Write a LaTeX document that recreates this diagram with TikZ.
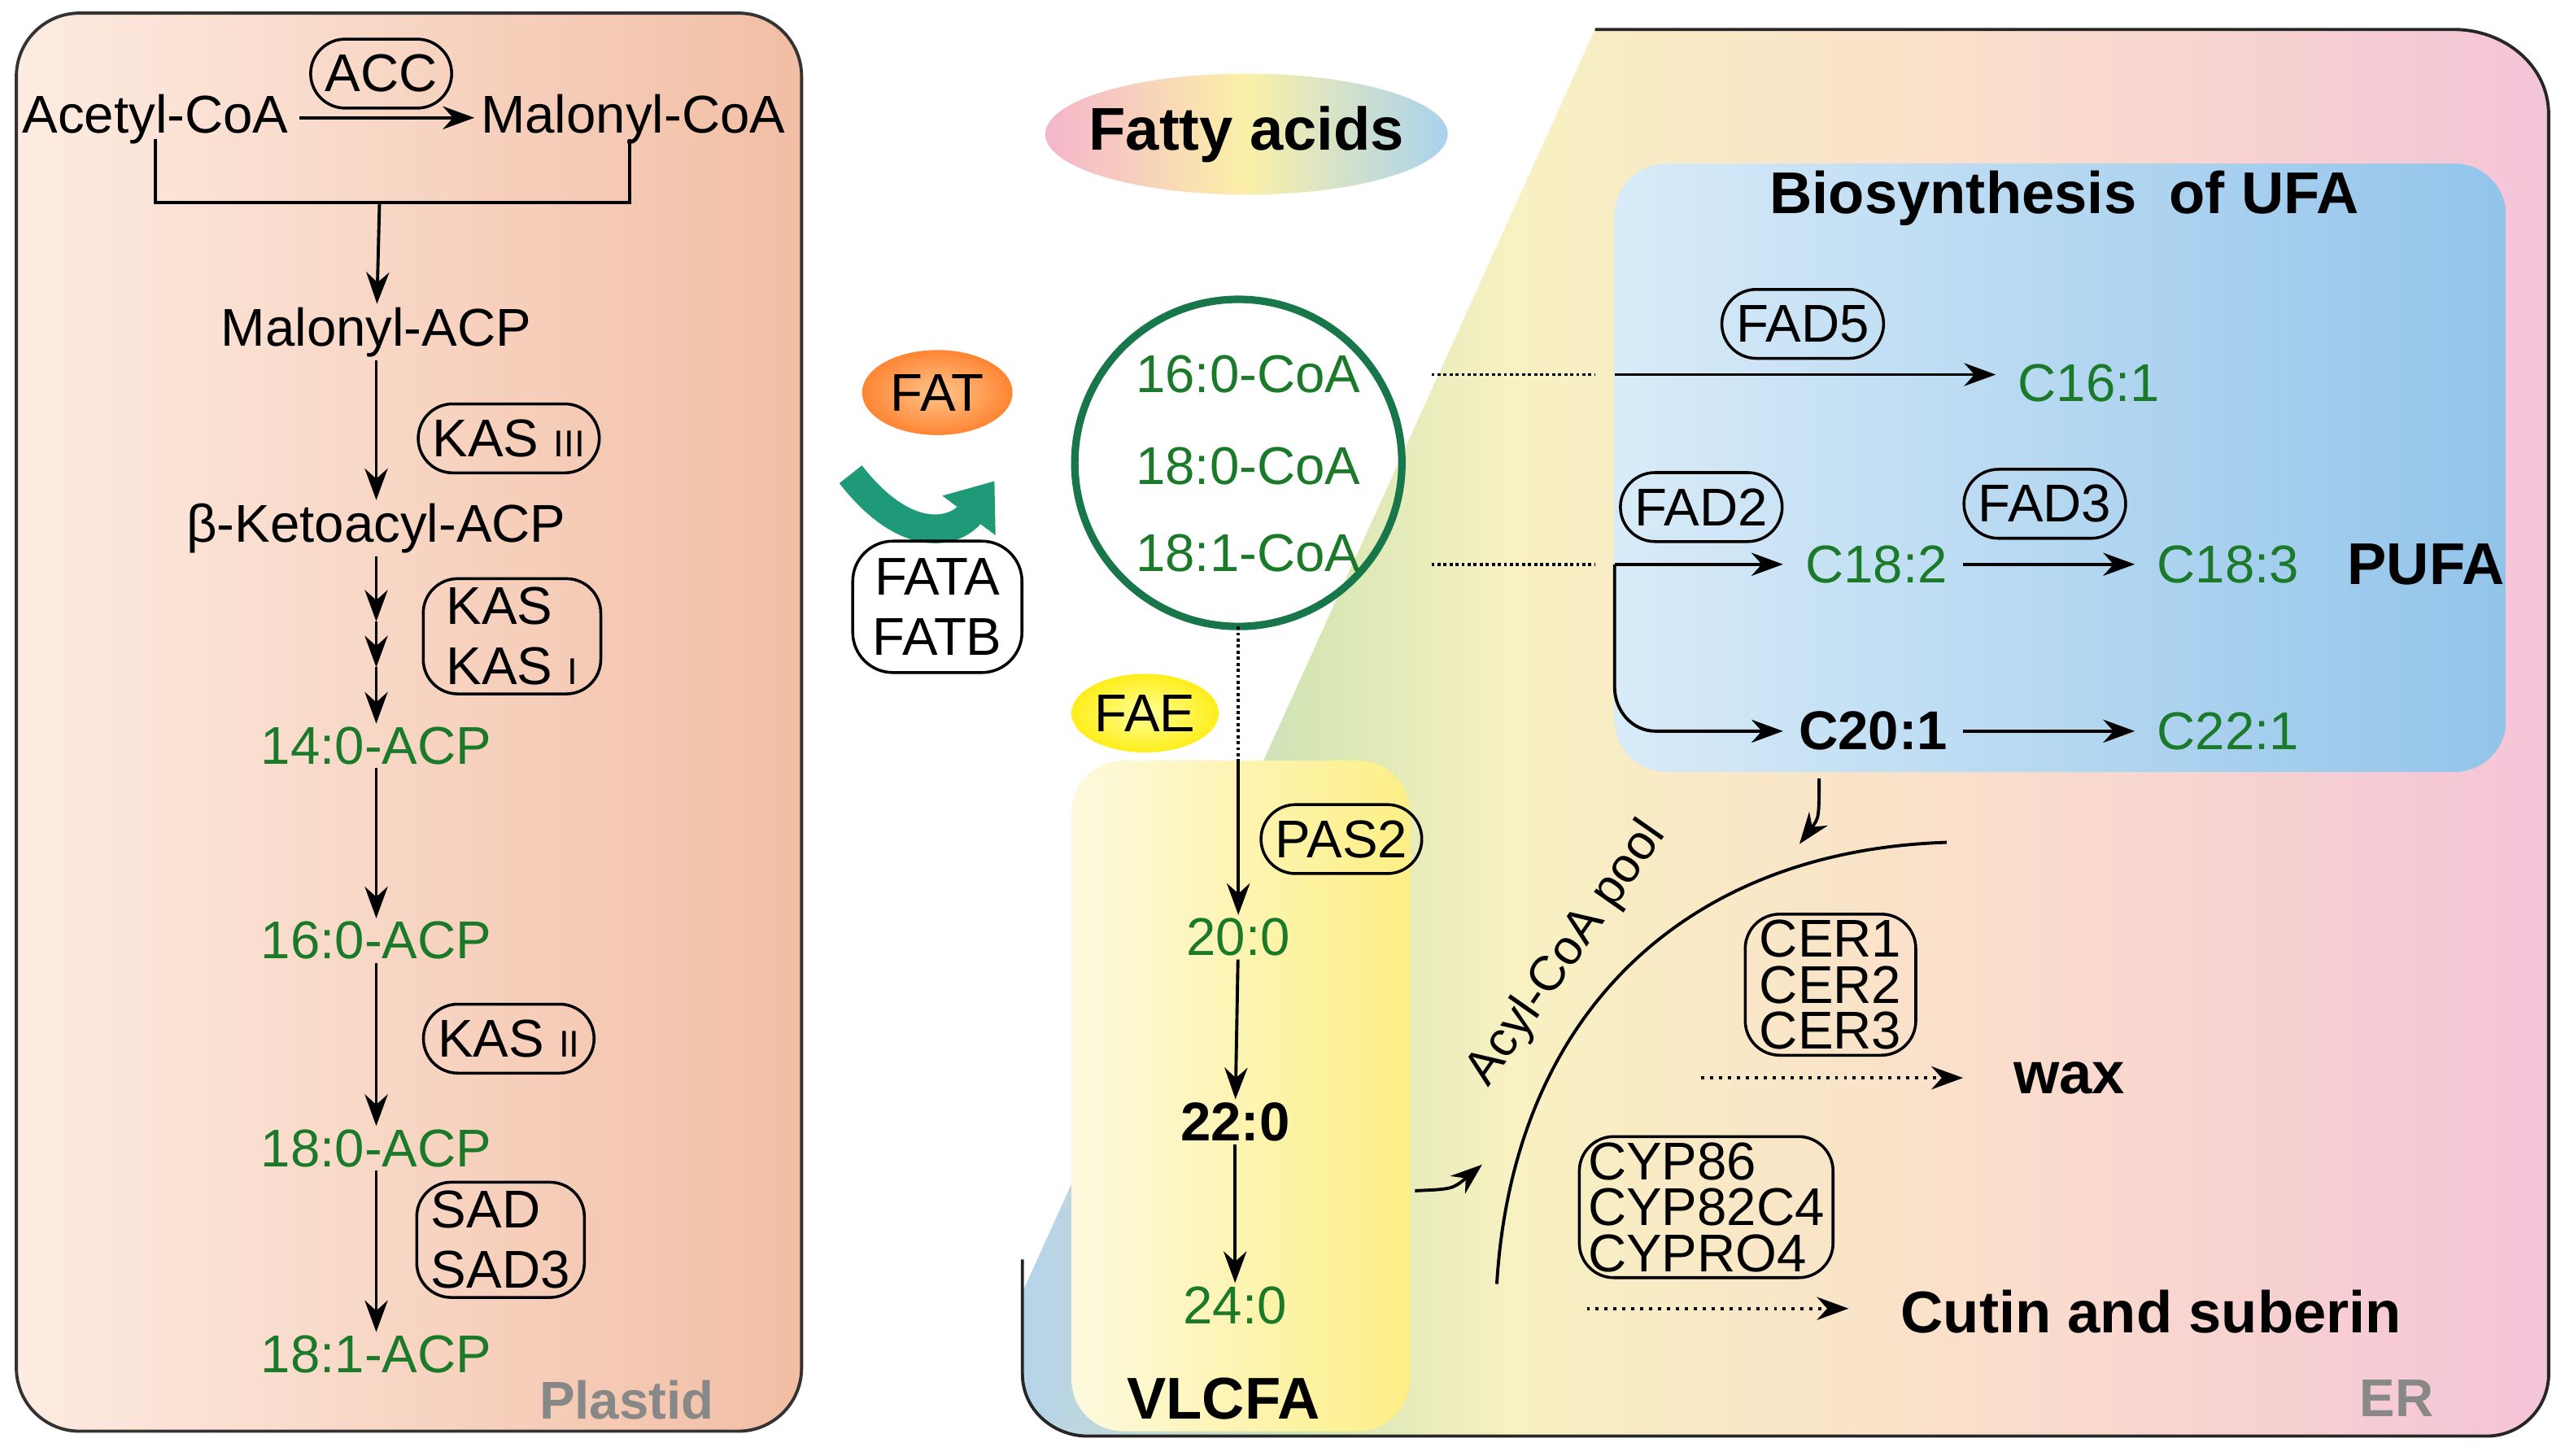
\documentclass[tikz,border=0pt]{standalone}
\usepackage{fontspec}
\setmainfont{Liberation Sans}
\usetikzlibrary{arrows.meta,shapes.geometric,calc}
\definecolor{gtxt}{HTML}{1B7A2A}
\definecolor{gcirc}{HTML}{17764A}
\definecolor{graylab}{HTML}{888888}
\definecolor{erA}{HTML}{B6D3EA}\definecolor{erB}{HTML}{D6E6B4}\definecolor{erC}{HTML}{F8F1C2}\definecolor{erD}{HTML}{FADFCB}\definecolor{erE}{HTML}{F4C4D8}
\definecolor{plA}{HTML}{FDECE2}\definecolor{plB}{HTML}{F2BEA4}
\definecolor{ufA}{HTML}{D8EBF8}\definecolor{ufB}{HTML}{92C4EA}
\definecolor{vlA}{HTML}{FDF9DE}\definecolor{vlB}{HTML}{FDEF86}
\definecolor{faA}{HTML}{F4B5CC}\definecolor{faB}{HTML}{FBF0A8}\definecolor{faC}{HTML}{A9D2EE}
\definecolor{arrg}{HTML}{1E9A78}
\pgfdeclarehorizontalshading{plsh}{100bp}{color(0bp)=(plA);color(25bp)=(plA);color(75bp)=(plB);color(100bp)=(plB)}
\pgfdeclarehorizontalshading{ersh}{100bp}{color(0bp)=(erA);color(25bp)=(erA);color(34.5bp)=(erB);color(41bp)=(erC);color(56bp)=(erD);color(75bp)=(erE);color(100bp)=(erE)}
\pgfdeclarehorizontalshading{ufsh}{100bp}{color(0bp)=(ufA);color(25bp)=(ufA);color(75bp)=(ufB);color(100bp)=(ufB)}
\pgfdeclarehorizontalshading{vlsh}{100bp}{color(0bp)=(vlA);color(25bp)=(vlA);color(75bp)=(vlB);color(100bp)=(vlB)}
\pgfdeclarehorizontalshading{fash}{100bp}{color(0bp)=(faA);color(25bp)=(faA);color(50bp)=(faB);color(75bp)=(faC);color(100bp)=(faC)}
\begin{document}
\begin{tikzpicture}[x=0.02cm,y=-0.02cm,
  every node/.style={font=\fontsize{18.5}{20}\selectfont, inner sep=1pt},
  grn/.style={text=gtxt},
  bld/.style={font=\fontsize{20.5}{22}\selectfont\bfseries},
  enz/.style={draw, line width=1pt, rounded corners=12pt, inner xsep=5pt, inner ysep=3pt, minimum height=24pt, align=center, font=\fontsize{18.5}{19}\selectfont},
  arr/.style={line width=1.1pt, -{Stealth[length=11pt,width=8pt]}},
  darr/.style={line width=1.1pt, dotted, -{Stealth[length=11pt,width=8pt]}},
  dline/.style={line width=1.1pt, densely dotted},
  ln/.style={line width=1.1pt}]
\useasboundingbox (0,0) rectangle (1568,890);
% plastid
\shade[shading=plsh, draw=black!80, line width=1.1pt, rounded corners=22pt] (10,8) rectangle (490,875);
% ER
\shade[shading=ersh] (975,18) -- (1500,18) to[out=0,in=90] (1558,70) -- (1558,840) to[out=-90,in=0] (1520,878) -- (665,878) to[out=180,in=-90] (625,840) -- (625,790) -- cycle;
\draw[line width=1.1pt, black!85] (975,18) -- (1500,18) to[out=0,in=90] (1558,70) -- (1558,840) to[out=-90,in=0] (1520,878) -- (665,878) to[out=180,in=-90] (625,840) -- (625,770);
\shade[shading=ufsh, rounded corners=18pt] (987,100) rectangle (1532,472);
\shade[shading=vlsh, rounded corners=18pt] (655,465) rectangle (862,875);
% fatty acids
\shade[shading=fash] (762,82) ellipse [x radius=123, y radius=37];
\node[font=\fontsize{21}{22}\selectfont\bfseries] (fa) at (762,82) {Fatty acids};
% FAT
\shade[inner color=orange!45!white, outer color=orange!80!red!80] (573,240) ellipse [x radius=46, y radius=26];
\node (fat) at (573,240) {FAT};
\draw[line width=10pt, color=arrg, -{Triangle[length=15pt,width=22pt]}] (520,290) .. controls (555,335) and (585,325) .. (608,294);
\node[enz, rounded corners=14pt, inner xsep=7pt, inner ysep=6pt] (fatab) at (573,371) {FATA\\[2pt]FATB};
% FAE
\shade[inner color=yellow!40!white, outer color=yellow!85!orange!90] (700,436) ellipse [x radius=45, y radius=24];
\node (fae) at (700,436) {FAE};
% circle
\draw[gcirc, line width=2.6pt] (757,283) circle [radius=100];
\node[grn] (c16) at (763,229) {16:0-CoA};
\node[grn] (c18) at (763,285) {18:0-CoA};
\node[grn] (c181) at (763,338) {18:1-CoA};
% left column
\node (acet) at (95,73) {Acetyl-CoA};
\node (malc) at (387,73) {Malonyl-CoA};
\draw[arr] (183,72) -- (290,72);
\node[enz] (acc) at (233,45) {ACC};
\draw[ln] (95,85) -- (95,124) -- (385,124) -- (385,85);
\coordinate (br) at (232,124);
\node (malacp) at (230,203) {Malonyl-ACP};
\draw[arr] (br) -- (malacp);
\node (keto) at (230,323) {β-Ketoacyl-ACP};
\draw[arr] (malacp) -- (keto);
\node[enz] (kas3) at (311,268) {KAS {\fontsize{13}{13}\selectfont III}};
\node[grn] (a14) at (230,456) {14:0-ACP};
\coordinate (k1) at (230,380); \coordinate (k2) at (230,408);
\draw[arr] (keto) -- (k1);
\draw[arr] (k1) -- (k2);
\draw[arr] (k2) -- (a14);
\node[enz, align=left, inner xsep=8pt] (kas1) at (313,389) {KAS\\[2pt]KAS {\fontsize{13}{13}\selectfont I}};
\node[grn] (a16) at (230,575) {16:0-ACP};
\draw[arr] (a14) -- (a16);
\node[grn] (a18) at (230,702) {18:0-ACP};
\draw[arr] (a16) -- (a18);
\node[enz] (kas2) at (311,635) {KAS {\fontsize{13}{13}\selectfont II}};
\node[grn] (a181) at (230,828) {18:1-ACP};
\draw[arr] (a18) -- (a181);
\node[enz, align=left] (sad) at (306,758) {SAD\\[2pt]SAD3};
\node[font=\fontsize{18.5}{20}\selectfont\bfseries, text=graylab] (pl) at (383,856) {Plastid};
% VLCFA
\coordinate (cb) at (757,383); \coordinate (vt) at (757,465);
\draw[dline] (cb) -- (vt);
\node[grn] (v20) at (757,573) {20:0};
\draw[arr] (vt) -- (v20);
\node[enz] (pas2) at (820,513) {PAS2};
\node[bld, font=\fontsize{19}{20}\selectfont\bfseries] (v22) at (755,686) {22:0};
\draw[arr] (v20) -- (v22);
\node[grn] (v24) at (755,798) {24:0};
\draw[arr] (v22) -- (v24);
\node[bld] (vl) at (748,855) {VLCFA};
% UFA
\node[bld] (ufa) at (1262,121) {Biosynthesis\ \ of UFA};
\coordinate (d1a) at (875,229); \coordinate (d1b) at (975,229);
\coordinate (d2a) at (875,345); \coordinate (d2b) at (975,345);
\draw[dline] (d1a) -- (d1b);
\draw[dline] (d2a) -- (d2b);
\coordinate (s1) at (987,229); \coordinate (s2) at (987,345);
\node[grn] (c161) at (1277,234) {C16:1};
\draw[arr] (s1) -- (1220,229);
\node[enz] (fad5) at (1102,198) {FAD5};
\node[grn] (c182) at (1147,345) {C18:2};
\draw[arr] (s2) -- (1090,345);
\node[enz] (fad2) at (1040,310) {FAD2};
\node[grn] (c183) at (1362,345) {C18:3};
\draw[arr] (1200,345) -- (1305,345);
\node[enz] (fad3) at (1250,308) {FAD3};
\node[bld] (pufa) at (1483,345) {PUFA};
\node[bld, font=\fontsize{19}{20}\selectfont\bfseries] (c201) at (1145,447) {C20:1};
\draw[arr] (s2) -- (987,420) to[out=-90,in=180] (1012,447) -- (1090,447);
\node[grn] (c221) at (1362,447) {C22:1};
\draw[arr] (1200,447) -- (1305,447);
% pool
\coordinate (pa) at (915,785); \coordinate (pb) at (1190,515);
\draw[ln] (pa) .. controls (925,620) and (1030,520) .. (pb);
\node[rotate=55, font=\fontsize{17}{18}\selectfont] (pool) at (958,583) {Acyl-CoA pool};
\coordinate (u1) at (1112,476); \coordinate (u2) at (1100,516);
\draw[arr] (u1) .. controls (1112,500) .. (u2);
\coordinate (w1) at (865,728); \coordinate (w2) at (906,712);
\draw[arr] (w1) .. controls (888,727) .. (w2);
\node[enz, inner ysep=2pt, rounded corners=12pt] (cer) at (1119,602) {CER1\\[-3pt]CER2\\[-3pt]CER3};
\coordinate (x1) at (1040,659);
\node[bld] (wax) at (1265,659) {wax};
\draw[darr] (x1) -- (1200,659);
\node[enz, align=left, inner ysep=2pt, inner xsep=3pt, rounded corners=12pt] (cyp) at (1043,738) {CYP86\\[-3pt]CYP82C4\\[-3pt]CYPRO4};
\coordinate (y1) at (970,800);
\node[bld] (cut) at (1315,802) {Cutin and suberin};
\draw[darr] (y1) -- (1130,800);
\node[font=\fontsize{18.5}{20}\selectfont\bfseries, text=graylab] (er) at (1465,855) {ER};
\end{tikzpicture}
\end{document}
